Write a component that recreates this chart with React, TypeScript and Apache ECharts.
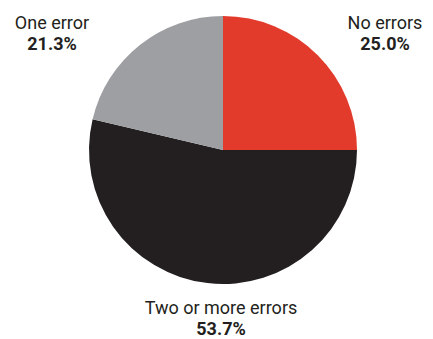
import React, { useEffect, useRef } from "react";
import * as echarts from "echarts";

const categories = ["No errors", "Two or more errors", "One error"];
const values = [25.0, 53.7, 21.3];
const colors = ["#e23b2c", "#231f20", "#9d9fa2"];
const labelX = [385, 221, 52];
const labelY = [22, 307, 22];

export default function App() {
  const ref = useRef<HTMLDivElement>(null);
  useEffect(() => {
    const chart = echarts.init(ref.current!, null, { renderer: "svg" });
    const font = "Roboto";
    const graphics: any[] = [];
    categories.forEach((c, i) => {
      graphics.push({
        type: "text",
        x: labelX[i],
        y: labelY[i],
        style: {
          text: c,
          align: "center",
          verticalAlign: "middle",
          fill: "#231f20",
          fontFamily: font,
          fontSize: 18,
        },
      });
      graphics.push({
        type: "text",
        x: labelX[i],
        y: labelY[i] + 21,
        style: {
          text: `${values[i].toFixed(1)}%`,
          align: "center",
          verticalAlign: "middle",
          fill: "#231f20",
          fontFamily: font,
          fontSize: 18,
          fontWeight: "bold",
        },
      });
    });
    chart.setOption({
      animation: false,
      graphic: graphics,
      series: [
        {
          type: "pie",
          center: [223, 150],
          radius: [0, 134],
          startAngle: 90,
          clockwise: true,
          label: { show: false },
          labelLine: { show: false },
          itemStyle: { borderWidth: 0 },
          emphasis: { disabled: true },
          data: categories.map((c, i) => ({
            name: c,
            value: values[i],
            itemStyle: { color: colors[i] },
          })),
        },
      ],
    });
    return () => chart.dispose();
  }, []);
  return (
    <div
      ref={ref}
      style={{ position: "fixed", left: 0, top: 0, width: 433, height: 339, background: "#fff" }}
    />
  );
}
